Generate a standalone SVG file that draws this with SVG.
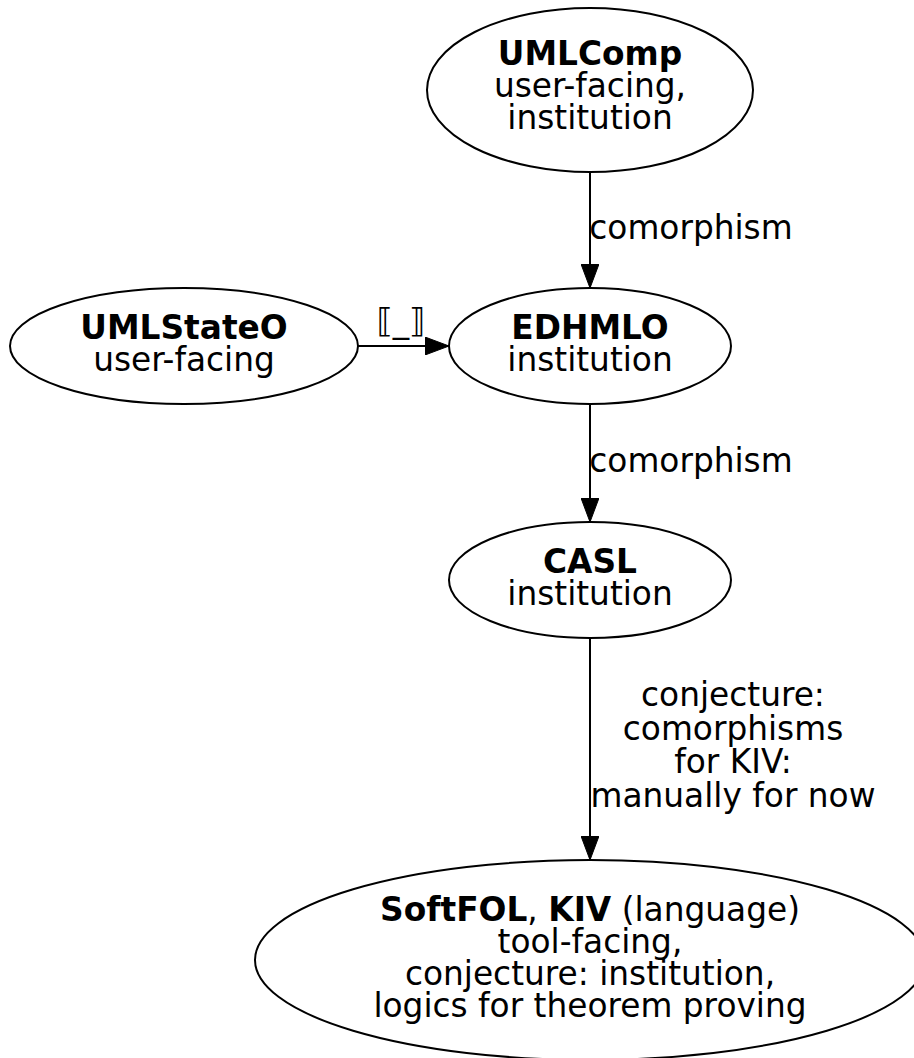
<svg xmlns="http://www.w3.org/2000/svg" width="914" height="1058" viewBox="0 0 914 1058">
<style>
text{font-family:"DejaVu Sans",sans-serif;font-size:32.8px;fill:#000;text-anchor:middle}
.b{font-weight:bold}
ellipse{fill:none;stroke:#000;stroke-width:2}
.e line{stroke:#000;stroke-width:2}
</style>
<defs>
<marker id="ah" viewBox="0 0 24 18" refX="24" refY="9" markerWidth="24" markerHeight="18" markerUnits="userSpaceOnUse" orient="auto">
<path d="M0,0 L24,9 L0,18 Z" fill="#000" stroke="#000" stroke-width="1"/>
</marker>
</defs>
<rect width="914" height="1058" fill="#fff"/>
<g id="connectors" class="e">
<line x1="590" y1="172" x2="590" y2="288" marker-end="url(#ah)"/>
<text x="691" y="239">comorphism</text>
<line x1="358" y1="346" x2="449" y2="346" marker-end="url(#ah)"/>
<text x="401" y="332">⟦_⟧</text>
<line x1="590" y1="404" x2="590" y2="522" marker-end="url(#ah)"/>
<text x="691" y="472">comorphism</text>
<line x1="590" y1="638" x2="590" y2="860" marker-end="url(#ah)"/>
<text x="733" y="706">conjecture:</text>
<text x="733" y="740">comorphisms</text>
<text x="733" y="773">for KIV:</text>
<text x="733" y="807">manually for now</text>
</g>
<g id="UMLComp">
<ellipse cx="590" cy="90" rx="163" ry="82"/>
<text x="590" y="65" class="b">UMLComp</text>
<text x="590" y="97">user-facing,</text>
<text x="590" y="129">institution</text>
</g>
<g id="UMLStateO">
<ellipse cx="184" cy="346" rx="174" ry="58"/>
<text x="184" y="339" class="b">UMLStateO</text>
<text x="184" y="371">user-facing</text>
</g>
<g id="EDHMLO">
<ellipse cx="590" cy="346" rx="141" ry="58"/>
<text x="590" y="339" class="b">EDHMLO</text>
<text x="590" y="371">institution</text>
</g>
<g id="CASL">
<ellipse cx="590" cy="580" rx="141" ry="58"/>
<text x="590" y="573" class="b">CASL</text>
<text x="590" y="605">institution</text>
</g>
<g id="SoftFOL">
<ellipse cx="590" cy="960" rx="335" ry="100"/>
<text x="590" y="921"><tspan class="b">SoftFOL</tspan>, <tspan class="b">KIV</tspan> (language)</text>
<text x="590" y="953">tool-facing,</text>
<text x="590" y="985">conjecture: institution,</text>
<text x="590" y="1017">logics for theorem proving</text>
</g>
</svg>
